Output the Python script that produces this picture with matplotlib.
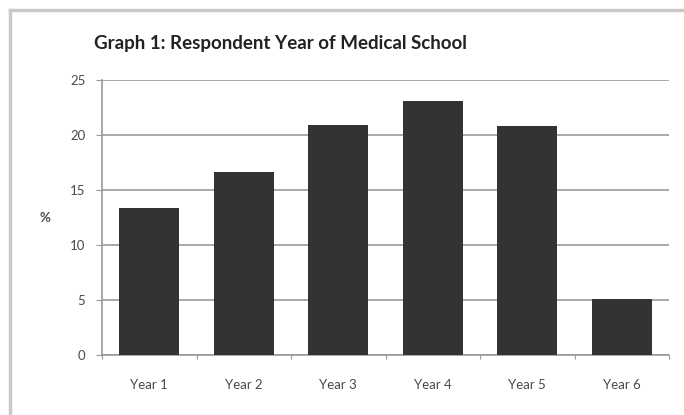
import numpy as np
import matplotlib.pyplot as plt
from matplotlib.lines import Line2D

years = ['Year 1', 'Year 2', 'Year 3', 'Year 4', 'Year 5', 'Year 6']
percent = [13.4, 16.6, 20.9, 23.1, 20.8, 5.1]
y_ticks = [0, 5, 10, 15, 20, 25]

W, H = 684, 415
fig = plt.figure(figsize=(W / 100, H / 100), dpi=100)
fig.patch.set_facecolor('white')

# chart frame along top and left edge
frame = '#c9c9c9'
fig.add_artist(Line2D([10 / W, 1], [1 - 10 / H, 1 - 10 / H], color=frame, lw=2.5,
                      transform=fig.transFigure))
fig.add_artist(Line2D([10 / W, 10 / W], [0, 1 - 10 / H], color=frame, lw=2.5,
                      transform=fig.transFigure))

ax = fig.add_axes([102 / W, 1 - 355 / H, 567 / W, 275 / H])
x = np.arange(len(years))
ax.bar(x, percent, width=0.64, color='#333333', zorder=3)

ax.set_xlim(-0.5, len(years) - 0.5)
ax.set_ylim(0, 25)
ax.set_yticks(y_ticks)
ax.set_yticklabels([str(v) for v in y_ticks], fontsize=9.5, color='#4a4a4a', family='Lato')
ax.yaxis.grid(True, color='#999999', lw=1.2, zorder=0)

# category labels centred under bars, tick marks on the boundaries
ax.set_xticks(np.arange(len(years) + 1) - 0.5)
ax.set_xticklabels([])
ax.set_xticks(x, minor=True)
ax.set_xticklabels(years, minor=True, fontsize=9.5, color='#4a4a4a', family='Lato')
ax.tick_params(axis='x', which='minor', length=0, pad=17)
ax.tick_params(axis='x', which='major', length=3, color='#999999', direction='out')
ax.tick_params(axis='y', length=4, color='#999999', pad=8)

for side in ['top', 'right']:
    ax.spines[side].set_visible(False)
for side in ['left', 'bottom']:
    ax.spines[side].set_color('#999999')
    ax.spines[side].set_linewidth(1.2)

ax.set_ylabel('%', fontsize=9.5, color='#4a4a4a', rotation=0,
              fontweight='bold', family='Lato', va='center')
ax.yaxis.set_label_coords(-0.101, 0.5)

fig.text(280 / W, 1 - 44 / H, 'Graph 1: Respondent Year of Medical School',
         ha='center', va='center', fontsize=13.5, fontweight='bold',
         color='#222222', family='Lato')

fig.savefig('out.png', dpi=100)
